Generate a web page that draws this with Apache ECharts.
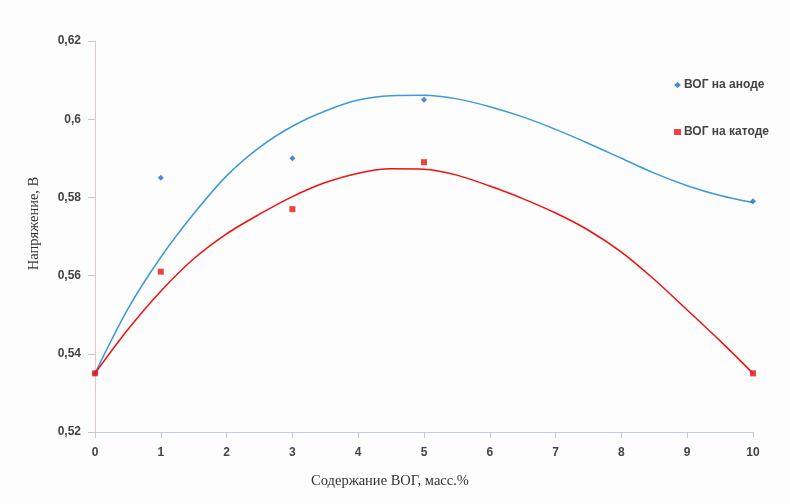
<!DOCTYPE html>
<html>
<head>
<meta charset="utf-8">
<script src="https://cdn.jsdelivr.net/npm/echarts@6/dist/echarts.min.js"></script>
<style>
html,body{margin:0;padding:0;background:#fcfdfc;}
#c{width:790px;height:504px;}
</style>
</head>
<body>
<div id="c"></div>
<script>
// Measured points
const xValues = [0, 1, 3, 5, 10];
const anodeValues = [0.535, 0.585, 0.590, 0.605, 0.579];
const cathodeValues = [0.535, 0.561, 0.577, 0.589, 0.535];

// Trend curves
const trendX = [0, 0.5, 1, 1.5, 2, 2.5, 3, 3.5, 4, 4.5, 5, 5.5, 6, 6.5, 7, 7.5, 8, 8.5, 9, 9.5, 10];
const anodeTrend = [0.535, 0.5515, 0.5647, 0.5758, 0.5855, 0.5928, 0.5982, 0.6021, 0.6049, 0.6060, 0.6061, 0.6052, 0.6032, 0.6006, 0.5974, 0.5938, 0.5900, 0.5862, 0.5830, 0.5805, 0.5787];
const cathodeTrend = [0.535, 0.5462, 0.5560, 0.5643, 0.5707, 0.5757, 0.5802, 0.5838, 0.5862, 0.5873, 0.5872, 0.5857, 0.5829, 0.5797, 0.5760, 0.5716, 0.5660, 0.5590, 0.5512, 0.5433, 0.5350];

const seriesNames = ['ВОГ на аноде', 'ВОГ на катоде'];
const xTitle = 'Содержание ВОГ, масс.%';
const yTitle = 'Напряжение, В';

const blue = '#1f6fc8';
const blueLine = '#3d9ad8';
const red = '#f01010';

const pair = (xs, ys) => xs.map((x, i) => [x, ys[i]]);

const labelStyle = {fontFamily: 'Liberation Sans', fontSize: 12, fontWeight: 'bold', color: '#444'};

const chart = echarts.init(document.getElementById('c'), null, {renderer: 'canvas'});
chart.setOption({
  backgroundColor: '#fcfdfc',
  animation: false,
  grid: {left: 95, right: 37, top: 41, bottom: 72},
  legend: {
    data: seriesNames,
    orient: 'vertical',
    left: 669,
    top: 74,
    itemGap: 35,
    itemWidth: 7,
    itemHeight: 6,
    textStyle: {fontFamily: 'Liberation Sans', fontSize: 12, fontWeight: 'bold', color: '#444', padding: [0, 0, 0, -2]}
  },
  xAxis: {
    type: 'value',
    min: 0, max: 10, interval: 1,
    name: xTitle,
    nameLocation: 'middle',
    nameGap: 42,
    nameTextStyle: {fontFamily: 'Liberation Serif', fontSize: 14.5, color: '#333', padding: [0, 68, 0, 0]},
    axisLine: {show: true, lineStyle: {color: '#c3ceda', width: 1}},
    axisTick: {show: true, length: 6, lineStyle: {color: '#c3ceda'}},
    axisLabel: Object.assign({margin: 15}, labelStyle),
    splitLine: {show: false}
  },
  yAxis: {
    type: 'value',
    min: 0.52, max: 0.62, interval: 0.02,
    name: yTitle,
    nameLocation: 'middle',
    nameGap: 53,
    nameRotate: 90,
    nameTextStyle: {fontFamily: 'Liberation Serif', fontSize: 14.5, color: '#333', padding: [0, 0, 0, 26]},
    axisLine: {show: true, lineStyle: {color: '#e0c8c8', width: 1}},
    axisTick: {show: true, length: 7, lineStyle: {color: '#c8c8c8'}},
    axisLabel: Object.assign({
      margin: 14,
      formatter: v => String(+v.toFixed(2)).replace('.', ',')
    }, labelStyle),
    splitLine: {show: false}
  },
  series: [
    {
      name: seriesNames[0] + ' trend',
      type: 'line',
      data: pair(trendX, anodeTrend),
      smooth: 0.3,
      symbol: 'none',
      lineStyle: {color: blueLine, width: 1.5},
      silent: true,
      z: 2
    },
    {
      name: seriesNames[1] + ' trend',
      type: 'line',
      data: pair(trendX, cathodeTrend),
      smooth: 0.3,
      symbol: 'none',
      lineStyle: {color: red, width: 1.5},
      silent: true,
      z: 2
    },
    {
      name: seriesNames[0],
      type: 'scatter',
      data: pair(xValues, anodeValues),
      symbol: 'diamond',
      symbolSize: 6,
      itemStyle: {color: blue},
      z: 4
    },
    {
      name: seriesNames[1],
      type: 'scatter',
      data: pair(xValues, cathodeValues),
      symbol: 'rect',
      symbolSize: 6,
      itemStyle: {color: red},
      z: 5
    }
  ]
});
</script>
</body>
</html>
